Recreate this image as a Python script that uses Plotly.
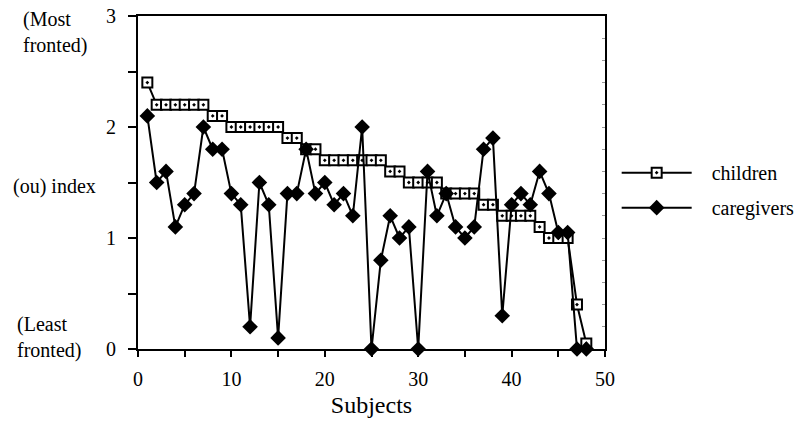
import plotly.graph_objects as go

subjects = list(range(1, 49))
children = [2.4, 2.2, 2.2, 2.2, 2.2, 2.2, 2.2, 2.1, 2.1, 2.0,
            2.0, 2.0, 2.0, 2.0, 2.0, 1.9, 1.9, 1.8, 1.8, 1.7,
            1.7, 1.7, 1.7, 1.7, 1.7, 1.7, 1.6, 1.6, 1.5, 1.5,
            1.5, 1.5, 1.4, 1.4, 1.4, 1.4, 1.3, 1.3, 1.2, 1.2,
            1.2, 1.2, 1.1, 1.0, 1.0, 1.0, 0.4, 0.05]
caregivers = [2.1, 1.5, 1.6, 1.1, 1.3, 1.4, 2.0, 1.8, 1.8, 1.4,
              1.3, 0.2, 1.5, 1.3, 0.1, 1.4, 1.4, 1.8, 1.4, 1.5,
              1.3, 1.4, 1.2, 2.0, 0.0, 0.8, 1.2, 1.0, 1.1, 0.0,
              1.6, 1.2, 1.4, 1.1, 1.0, 1.1, 1.8, 1.9, 0.3, 1.3,
              1.4, 1.3, 1.6, 1.4, 1.05, 1.05, 0.0, 0.0]
x_tickvals = [0, 5, 10, 15, 20, 25, 30, 35, 40, 45, 50]
x_ticktext = ["0", "", "10", "", "20", "", "30", "", "40", "", "50"]
y_tickvals = [0, 0.5, 1, 1.5, 2, 2.5, 3]
y_ticktext = ["0", "", "1", "", "2", "", "3"]

FONT = "Liberation Serif"
PAD = "\u00a0\u00a0\u00a0"

fig = go.Figure()
fig.add_trace(go.Scatter(
    x=subjects, y=children, name=PAD + "children", mode="lines+markers",
    legendgroup="c",
    line=dict(color="black", width=2),
    marker=dict(symbol="square-dot", size=10, color="white",
                line=dict(color="black", width=2)),
    cliponaxis=False,
))
fig.add_trace(go.Scatter(
    x=subjects, y=caregivers, name=PAD + "caregivers", mode="lines+markers",
    legendgroup="g",
    line=dict(color="black", width=2),
    marker=dict(symbol="diamond", size=12, color="black",
                line=dict(color="black", width=0)),
    cliponaxis=False,
))
# invisible trace for right-side inner ticks
fig.add_trace(go.Scatter(x=[None], y=[None], yaxis="y2", showlegend=False))

fig.update_layout(
    width=803, height=421,
    margin=dict(l=138, r=198, t=16, b=72, autoexpand=False),
    paper_bgcolor="white", plot_bgcolor="white",
    font=dict(family=FONT, size=20, color="black"),
    showlegend=True,
    legend=dict(x=1.025, y=0.477, xanchor="left", yanchor="middle",
                font=dict(family=FONT, size=20), itemwidth=70,
                tracegroupgap=6, traceorder="grouped",
                bgcolor="rgba(0,0,0,0)"),
    xaxis=dict(range=[0, 50], tickvals=x_tickvals, ticktext=x_ticktext,
               ticks="outside", ticklen=6, tickwidth=2, tickcolor="black",
               showline=True, linecolor="black", linewidth=2, mirror=True,
               showgrid=False, zeroline=False, automargin=False,
               ticklabelstandoff=5, ticklabeloverflow="allow",
               title=dict(text="Subjects", standoff=7),
               tickfont=dict(size=20)),
    yaxis=dict(range=[0, 3], tickvals=y_tickvals, ticktext=y_ticktext,
               ticks="outside", ticklen=8, tickwidth=2, tickcolor="black",
               showline=True, linecolor="black", linewidth=2, mirror=True,
               showgrid=False, zeroline=False, automargin=False,
               ticklabelstandoff=8, ticklabeloverflow="allow",
               tickfont=dict(size=20)),
    yaxis2=dict(range=[0, 3], overlaying="y", side="right", dtick=0.2,
                ticks="inside", ticklen=3, tickwidth=1, tickcolor="#999",
                showticklabels=False, showgrid=False, zeroline=False,
                showline=False, automargin=False),
    annotations=[
        dict(text="(Most<br>fronted)", xref="paper", yref="paper",
             x=-0.2505, y=0.949, xanchor="left", yanchor="middle",
             align="left", showarrow=False, font=dict(size=20)),
        dict(text="(ou) index", xref="paper", yref="paper",
             x=-0.2719, y=0.489, xanchor="left", yanchor="middle",
             align="left", showarrow=False, font=dict(size=20)),
        dict(text="(Least<br>fronted)", xref="paper", yref="paper",
             x=-0.2634, y=0.036, xanchor="left", yanchor="middle",
             align="left", showarrow=False, font=dict(size=20)),
    ],
)

fig.write_html("out.html",
               config={"displayModeBar": False},
               post_script="document.body.style.margin='0';")
